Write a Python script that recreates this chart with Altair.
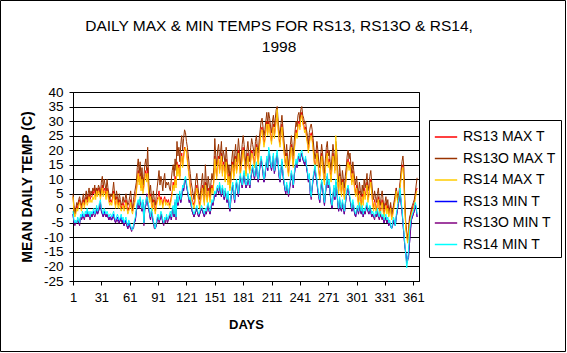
import altair as alt
import pandas as pd

NAMES = ["RS13 MAX T", "RS13O MAX T", "RS14 MAX T", "RS13 MIN T", "RS13O MIN T", "RS14 MIN T"]
COLORS = ["#FF0000", "#993300", "#FFCC00", "#0000FF", "#800080", "#00FFFF"]
X_TICKS = [1, 31, 61, 91, 121, 151, 181, 211, 241, 271, 301, 331, 361]
Y_TICKS = [-25, -20, -15, -10, -5, 0, 5, 10, 15, 20, 25, 30, 35, 40]

rs13_max = [
    4, 0, -2, -1, 1, 0, 2, 3, 1, 0,
    2, 3, 1, 3, 4, 2, 3, 5, 3, 4,
    4, 6, 5, 7, 4, 7, 5, 7, 6, 4,
    6, 8, 5, 7, 6, 4, 7, 5, 3, 2,
    3, 2, 4, 6, 3, 1, 4, 2, 1, 3,
    1, 0, 1, 2, 0, 1, 3, 1, -1, 0,
    1, 3, 0, -1, 1, 2, 4, 6, 10, 13,
    9, 12, 7, 11, 6, 8, 11, 13, 10, 14,
    6, 3, 5, 2, 0, 3, 1, -1, 1, 3,
    4, 6, 2, 4, 3, 1, 3, 4, 2, 3,
    2, 3, 1, 2, 4, 6, 9, 7, 11, 8,
    16, 12, 15, 11, 16, 19, 15, 18, 21, 20,
    20, 17, 14, 11, 8, 5, 3, 2, 1, 3,
    6, 8, 5, 3, 1, 3, 6, 8, 4, 2,
    9, 5, 3, 7, 5, 3, 6, 8, 6, 10,
    18, 14, 11, 16, 18, 13, 15, 19, 12, 16,
    14, 10, 17, 13, 9, 12, 7, 10, 14, 16,
    11, 14, 18, 13, 15, 20, 16, 12, 15, 18,
    21, 18, 15, 12, 16, 19, 15, 13, 17, 20,
    19, 17, 15, 19, 22, 18, 16, 21, 24, 27,
    28, 25, 22, 24, 27, 30, 26, 30, 28, 25,
    23, 27, 29, 25, 28, 31, 33, 28, 24, 22,
    26, 29, 25, 21, 17, 15, 19, 14, 12, 16,
    19, 22, 18, 15, 20, 24, 27, 25, 29, 30,
    28, 32, 33, 30, 29, 27, 28, 25, 23, 20,
    23, 25, 26, 24, 21, 17, 14, 16, 20, 17,
    13, 11, 15, 19, 16, 12, 9, 14, 18, 20,
    15, 17, 13, 10, 15, 19, 17, 13, 22, 18,
    9, 6, 12, 8, 5, 10, 7, 4, 8, 11,
    15, 17, 14, 16, 12, 9, 13, 10, 7, 5,
    8, 4, 2, 6, 3, 1, 5, 2, 7, 4,
    6, 9, 3, 5, 8, 10, 6, 2, 0, 3,
    1, -1, 2, 4, 0, -2, 1, 3, 0, -2,
    0, 2, -1, 1, -2, -1, 1, -3, -2, 0,
    2, 4, 7, 4, 2, 5, 8, 11, 14, 15,
    10, 1, -6, -9, -11, -8, -4, -3, -1, 0,
    1, 2, 4, 6, 7,
]

rs13o_max = [
    5, 1, -2, 0, 2, 1, 3, 4, 2, 1,
    3, 5, 2, 4, 6, 3, 5, 7, 4, 6,
    5, 7, 6, 8, 5, 7, 6, 8, 7, 5,
    9, 11, 7, 10, 8, 6, 10, 7, 5, 3,
    5, 4, 6, 9, 5, 3, 6, 4, 2, 5,
    3, 1, 2, 4, 2, 3, 5, 3, 1, 2,
    4, 6, 2, 0, 3, 5, 7, 9, 14, 17,
    12, 16, 10, 14, 8, 11, 15, 17, 13, 21,
    10, 5, 8, 4, 2, 6, 3, 1, 4, 7,
    10, 13, 8, 11, 9, 6, 10, 12, 7, 9,
    8, 9, 7, 6, 10, 13, 15, 11, 17, 13,
    23, 18, 21, 16, 22, 25, 20, 24, 27, 26,
    23, 21, 18, 15, 12, 9, 7, 5, 3, 6,
    10, 12, 8, 5, 3, 6, 9, 12, 7, 4,
    15, 9, 6, 11, 8, 5, 9, 12, 10, 14,
    24, 18, 15, 20, 22, 17, 19, 23, 16, 20,
    18, 14, 21, 17, 12, 15, 10, 13, 17, 20,
    14, 18, 22, 16, 19, 24, 20, 15, 18, 22,
    25, 22, 18, 15, 20, 23, 19, 16, 21, 24,
    22, 20, 18, 23, 25, 21, 19, 24, 27, 30,
    31, 28, 25, 27, 30, 33, 29, 33, 31, 28,
    26, 30, 32, 28, 31, 34, 35, 30, 27, 25,
    29, 32, 28, 24, 20, 18, 22, 17, 15, 19,
    22, 25, 21, 18, 23, 27, 30, 28, 32, 33,
    30, 34, 35, 32, 31, 29, 30, 27, 25, 22,
    26, 28, 29, 27, 24, 20, 17, 19, 23, 20,
    16, 14, 18, 22, 19, 15, 12, 17, 21, 23,
    18, 20, 16, 13, 18, 22, 19, 15, 23, 20,
    12, 9, 15, 11, 8, 13, 10, 7, 11, 14,
    18, 20, 17, 19, 15, 12, 16, 13, 10, 8,
    11, 7, 5, 9, 6, 4, 8, 5, 10, 7,
    9, 12, 6, 8, 11, 13, 9, 5, 3, 6,
    4, 2, 5, 7, 3, 1, 4, 6, 3, 0,
    2, 4, 1, 3, -1, 0, 2, -2, -1, 1,
    3, 5, 7, 4, 2, 6, 9, 13, 16, 18,
    14, 3, -5, -8, -11, -7, -3, -2, 0, 1,
    2, 3, 5, 8, 10.5,
]

rs14_max = [
    4, -1, -3, -2, 0, -1, 1, 2, 0, -1,
    1, 2, 0, 2, 3, 1, 2, 4, 2, 3,
    2, 4, 3, 5, 3, 6, 4, 6, 5, 3,
    5, 7, 4, 6, 5, 3, 6, 4, 2, 1,
    2, 1, 3, 5, 2, 0, 3, 1, 0, 2,
    0, -1, 0, 1, -1, 0, 2, 0, -2, -1,
    0, 2, -1, -2, 0, 1, 3, 5, 9, 12,
    8, 11, 6, 10, 5, 7, 10, 12, 9, 12,
    5, 2, 4, 1, -1, 2, 0, -2, 0, 2,
    3, 4, 1, 3, 2, 0, 2, 3, 1, 2,
    1, 2, 0, 1, 3, 5, 8, 6, 10, 7,
    15, 11, 14, 10, 15, 18, 14, 17, 20, 21,
    19, 16, 13, 10, 7, 4, 2, 1, 0, 2,
    5, 7, 4, 2, 0, 2, 5, 7, 3, 1,
    8, 4, 2, 6, 4, 2, 5, 7, 5, 9,
    17, 13, 10, 15, 17, 12, 14, 18, 11, 15,
    13, 9, 16, 12, 8, 11, 6, 9, 13, 15,
    10, 13, 17, 12, 14, 19, 15, 11, 14, 17,
    20, 17, 14, 11, 15, 18, 14, 12, 16, 19,
    18, 16, 14, 18, 21, 17, 15, 20, 23, 26,
    27, 24, 21, 23, 26, 29, 25, 29, 27, 24,
    22, 26, 28, 24, 27, 30, 34, 27, 23, 21,
    25, 28, 24, 20, 16, 14, 18, 13, 11, 15,
    18, 21, 17, 14, 19, 23, 26, 24, 28, 29,
    27, 31, 32, 29, 28, 26, 27, 24, 22, 19,
    22, 24, 25, 23, 20, 16, 13, 15, 19, 16,
    12, 10, 14, 18, 15, 11, 8, 13, 17, 19,
    14, 16, 12, 9, 14, 18, 16, 12, 25, 17,
    8, 5, 11, 7, 4, 9, 6, 3, 7, 10,
    14, 16, 13, 15, 11, 8, 12, 9, 6, 4,
    7, 3, 1, 5, 2, 0, 4, 1, 6, 3,
    5, 8, 2, 4, 7, 9, 5, 1, -1, 2,
    0, -2, 1, 3, -1, -3, 0, 2, -1, -3,
    -1, 1, -2, 0, -3, -2, 0, -4, -3, -1,
    1, 3, 6, 3, 1, 4, 7, 10, 13, 14,
    9, 0, -7, -10, -12, -9, -5, -4, -2, -1,
    0, 1, 3, 5, 6,
]

rs13_min = [
    -2, -5, -5, -5, -5, -4, -5, -5, -3, -4,
    -2, -3, -3, -2, -3, -1, -3, -2, -3, -2,
    -3, -2, -1, -2, -2, 0, -2, -1, 1, 2,
    -1, -2, -3, -1, -2, -3, -2, -3, -4, -3,
    -3, -4, -3, -2, -4, -5, -4, -3, -4, -5,
    -4, -3, -5, -4, -6, -5, -4, -6, -7, -5,
    -6, -7, -7, -7, -6, -5, -4, -1, 1, 2,
    0, 3, 1, -1, 2, -5, 0, 1, 4, 2,
    0, -2, -4, -1, -3, -5, -6, -7, -6, -4,
    -3, -4, -4, -2, -3, -5, -5, -4, -4, -3,
    -4, -4, -3, -2, -4, -1, 0, -3, 2, -3,
    4, 1, 3, 5, 2, 4, 7, 6, 9, 10,
    8, 6, 4, 2, 3, 1, -1, -2, -3, -2,
    -1, 0, -2, -3, -2, -1, 0, -1, -2, -3,
    -1, -2, 0, 1, -1, -2, 0, 2, 1, 3,
    5, 4, 6, 7, 5, 8, 6, 4, 7, 5,
    3, 6, 4, 2, 5, 1, -1, 3, 6, 8,
    5, 2, 7, 9, 6, 4, 8, 11, 9, 7,
    10, 12, 9, 7, 8, 11, 9, 7, 10, 12,
    14, 12, 10, 13, 15, 11, 9, 12, 15, 17,
    15, 12, 9, 11, 14, 17, 13, 20, 18, 15,
    13, 16, 18, 12, 14, 17, 19, 15, 11, 9,
    13, 16, 12, 9, 7, 5, 8, 6, 5, 7,
    9, 12, 10, 7, 11, 14, 16, 14, 17, 18,
    16, 18, 19, 17, 16, 15, 17, 14, 12, 9,
    11, 5, 4, 7, 10, 12, 14, 11, 9, 6,
    4, 2, 6, 9, 7, 4, 1, 5, 8, 11,
    7, 9, 5, 2, 0, 4, 7, 3, 9, 6,
    2, -1, 3, 0, -1, 2, 0, -2, 1, 4,
    6, 7, 5, 3, 1, -1, 2, 0, -2, -3,
    -1, 0, -2, 1, -1, -2, 0, -3, -1, -2,
    0, 1, -1, -2, 0, -1, -3, -2, -3, -3,
    -2, -3, -1, -3, -3, -2, -3, -3, -3, -5,
    -4, -3, -5, -4, -6, -5, -6, -7, -6, -4,
    -5, -6, -3, -1, 1, 3, 6, 2, -1, -5,
    -9, -13, -15, -18, -17, -16, -12, -7, -4, -3,
    -2, -1, 1, 0, -3,
]

rs13o_min = [
    -2, -5, -6, -5, -5, -4, -5, -6, -3, -4,
    -3, -3, -4, -2, -3, -2, -3, -2, -4, -2,
    -3, -2, -2, -3, -2, -1, -2, -1, 0, 2,
    -1, -2, -3, -2, -2, -3, -2, -3, -4, -3,
    -4, -4, -3, -3, -4, -5, -4, -4, -5, -5,
    -4, -4, -5, -5, -6, -5, -5, -6, -7, -6,
    -6, -7, -8, -7, -7, -5, -4, -1, 1, 2,
    0, 3, 1, -1, 2, -6, 0, 1, 5, 2,
    0, -2, -4, -1, -3, -5, -7, -7, -6, -4,
    -3, -5, -4, -2, -3, -5, -6, -4, -5, -3,
    -5, -4, -3, -2, -4, -1, 0, -3, 2, -4,
    4, 1, 3, 5, 2, 4, 6, 6, 9, 10,
    8, 6, 4, 2, 3, 1, -1, -2, -3, -2,
    -1, 0, -2, -3, -2, -1, 0, -1, -2, -3,
    -1, -2, 0, 1, -1, -2, 0, 2, 1, 3,
    5, 4, 6, 7, 5, 7, 6, 4, 7, 5,
    3, 6, 4, 2, 5, 1, -1, 3, 6, 8,
    5, 2, 7, 9, 6, 4, 8, 11, 9, 7,
    10, 12, 9, 7, 8, 11, 9, 7, 10, 12,
    14, 12, 10, 13, 15, 11, 9, 12, 15, 17,
    15, 12, 9, 11, 14, 17, 13, 19, 18, 15,
    13, 16, 18, 12, 14, 17, 19, 15, 11, 9,
    13, 16, 12, 9, 7, 5, 8, 6, 4, 6,
    9, 12, 10, 7, 11, 14, 16, 14, 17, 18,
    16, 18, 19, 17, 16, 15, 17, 14, 12, 9,
    11, 5, 3, 7, 10, 12, 14, 11, 9, 6,
    4, 2, 6, 9, 7, 4, 1, 5, 8, 11,
    7, 9, 5, 2, 0, 4, 7, 3, 9, 6,
    2, -1, 3, 0, -1, 2, 0, -2, 1, 4,
    6, 7, 5, 3, 1, -1, 2, 0, -2, -3,
    -1, 0, -2, 1, -1, -2, 0, -3, -1, -2,
    0, 1, -1, -2, 0, -1, -3, -2, -3, -4,
    -2, -3, -1, -3, -4, -2, -3, -4, -3, -5,
    -4, -3, -5, -4, -6, -5, -6, -7, -6, -4,
    -5, -6, -3, -1, 1, 3, 6, 2, -1, -5,
    -9, -13, -16, -19, -18, -17, -12, -8, -4, -3,
    -2, -1, 1, 0, -3,
]

rs14_min = [
    -1, -4, -5, -4, -5, -3, -4, -5, -2, -3,
    -1, -2, -3, -1, -2, 0, -2, -1, -3, -1,
    -2, -1, 0, -2, -1, 1, -1, 0, 2, 3,
    0, -1, -2, 0, -1, -2, -1, -2, -3, -2,
    -2, -3, -2, -1, -3, -4, -3, -2, -3, -4,
    -3, -2, -4, -3, -5, -4, -3, -5, -6, -4,
    -5, -6, -7, -7.5, -6, -4, -3, 0, 2, 3,
    1, 4, 2, 0, 3, -5, 1, 2, 4, 3,
    1, -1, -3, 0, -2, -4, -6, -7, -5, -3,
    -2, -4, -3, -1, -2, -4, -5, -3, -4, -2,
    -4, -3, -2, -1, -3, 0, 1, -2, 3, -3,
    5, 2, 4, 6, 3, 5, 8, 7, 10, 11,
    9, 7, 5, 3, 4, 2, 0, -1, -2, -1,
    0, 1, -1, -2, -1, 0, 1, 0, -1, -2,
    0, -1, 1, 2, 0, -1, 1, 3, 2, 4,
    6, 5, 7, 8, 6, 9, 7, 5, 8, 6,
    4, 7, 5, 3, 6, 2, 0, 4, 7, 9,
    6, 3, 8, 10, 7, 5, 9, 12, 10, 8,
    11, 13, 10, 8, 9, 12, 10, 8, 11, 13,
    15, 13, 11, 14, 16, 12, 10, 13, 16, 18,
    16, 13, 10, 12, 15, 18, 14, 21, 19, 16,
    14, 17, 19, 13, 15, 18, 20, 16, 12, 10,
    14, 17, 13, 10, 8, 6, 9, 7, 5, 8,
    10, 13, 11, 8, 12, 15, 17, 15, 18, 19,
    17, 19, 20, 18, 17, 16, 18, 15, 13, 10,
    12, 6, 4, 8, 11, 13, 15, 12, 10, 7,
    5, 3, 7, 10, 8, 5, 2, 6, 9, 12,
    8, 10, 6, 3, 1, 5, 8, 4, 10, 7,
    3, 0, 4, 1, 0, 3, 1, -1, 2, 5,
    7, 8, 6, 4, 2, 0, 3, 1, -1, -2,
    0, 1, -1, 2, 0, -1, 1, -2, 0, -1,
    1, 2, 0, -1, 1, 0, -2, -1, -2, -3,
    -1, -2, 0, -2, -3, -1, -2, -3, -2, -4,
    -3, -2, -4, -3, -5, -4, -6, -7, -5, -3,
    -4, -6, -2, 0, 2, 4, 7, 3, 0, -4,
    -8, -12, -16, -20.5, -18, -14, -8, -5, -3, -2,
    -1, 0, 2, 1, -2,
]

SERIES = [rs13_max, rs13o_max, rs14_max, rs13_min, rs13o_min, rs14_min]
for s in SERIES:
    assert len(s) == 365, len(s)

DAYS = list(range(1, 366))
rows = []
for name, vals in zip(NAMES, SERIES):
    for d, v in zip(DAYS, vals):
        rows.append({"day": d, "temp": v, "series": name})
df = pd.DataFrame(rows)

FONT = "Liberation Sans"

color = alt.Color(
    "series:N",
    scale=alt.Scale(domain=NAMES, range=COLORS),
    legend=alt.Legend(
        title=None,
        orient="none",
        legendX=356,
        legendY=28,
        direction="vertical",
        strokeColor="black",
        fillColor="white",
        padding=5,
        symbolType="stroke",
        symbolSize=500,
        symbolStrokeWidth=1.5,
        symbolOffset=0,
        labelOffset=5,
        labelFont=FONT,
        labelFontSize=14,
        labelColor="black",
        rowPadding=2.5,
    ),
)

x = alt.X(
    "day:Q",
    scale=alt.Scale(domain=[1, 367], nice=False, zero=False),
    axis=alt.Axis(
        values=X_TICKS,
        title="DAYS",
        grid=False,
        tickSize=4,
        labelPadding=6,
        labelFontSize=13,
        titleFontSize=13,
        titleFontWeight="bold",
        titleY=43,
        titleBaseline="middle",
        labelFlush=False,
    ),
)
y = alt.Y(
    "temp:Q",
    scale=alt.Scale(domain=[-25, 40], nice=False, zero=False),
    axis=alt.Axis(
        values=Y_TICKS,
        title="MEAN DAILY TEMP (C)",
        grid=True,
        tickSize=4,
        labelPadding=6,
        labelFontSize=13.5,
        labelExpr="'' + datum.value",
        titleFontSize=14,
        titleFontWeight="bold",
        titleX=-46,
        titleBaseline="middle",
    ),
)

layers = []
for name in NAMES:
    layers.append(
        alt.Chart(df)
        .transform_filter(alt.datum.series == name)
        .mark_line(strokeWidth=1)
        .encode(x=x, y=y, color=color)
    )

border = alt.Chart(pd.DataFrame({"k": [0]})).mark_rect(
    fillOpacity=0, stroke="black", strokeWidth=1
).encode(
    x=alt.value(-72.5), x2=alt.value(492.5), y=alt.value(-91.5), y2=alt.value(259.5)
)

chart = (
    alt.layer(*layers, border)
    .properties(
        width=346,
        height=189,
        padding={"left": 73, "top": 92, "right": 148, "bottom": 72},
        autosize=alt.AutoSizeParams(type="none"),
        title=alt.TitleParams(
            text=["DAILY MAX & MIN TEMPS FOR RS13, RS13O & RS14,", "1998"],
            font=FONT,
            fontSize=15.5,
            fontWeight="normal",
            color="black",
            anchor="middle",
            frame="group",
            dx=33,
            lineHeight=21,
            offset=-55,
        ),
    )
    .configure(background="white")
    .configure_view(stroke="black", strokeWidth=1)
    .configure_axis(
        labelFont=FONT,
        titleFont=FONT,
        labelColor="black",
        titleColor="black",
        domainColor="black",
        tickColor="black",
        gridColor="black",
        gridOpacity=1,
        gridWidth=1,
        domainWidth=1,
        tickWidth=1,
    )
)

chart.save("out.html", embed_options={"renderer": "svg", "actions": False})
